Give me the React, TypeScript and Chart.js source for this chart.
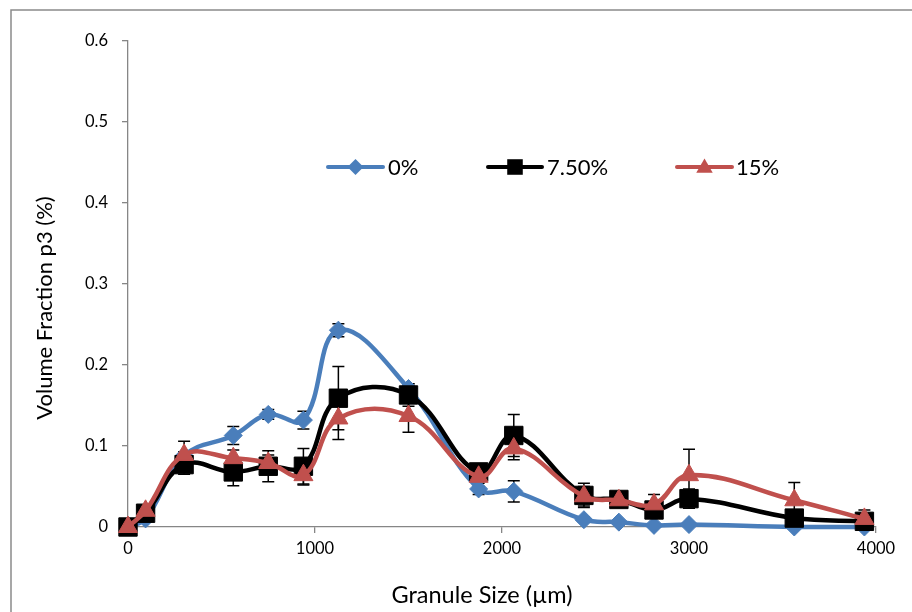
import React, { useEffect, useRef } from "react";
import { Chart, registerables } from "chart.js";

Chart.register(...registerables);

// ---- Data ----
const granuleSizes = [0, 94, 300, 563, 750, 938, 1125, 1500, 1875, 2063, 2438, 2625, 2813, 3000, 3563, 3938];
const frac0 = [0, 0.01, 0.088, 0.113, 0.139, 0.132, 0.243, 0.171, 0.047, 0.044, 0.009, 0.006, 0.002, 0.003, 0.0, 0.0];
const frac750 = [0, 0.017, 0.077, 0.068, 0.075, 0.075, 0.159, 0.163, 0.068, 0.113, 0.039, 0.034, 0.021, 0.035, 0.011, 0.007];
const frac15 = [0, 0.02, 0.089, 0.085, 0.079, 0.064, 0.134, 0.137, 0.062, 0.097, 0.038, 0.033, 0.028, 0.064, 0.033, 0.01];
const err0 = [0, 0, 0.005, 0.011, 0.006, 0.011, 0.008, 0.006, 0.007, 0.013, 0.003, 0.002, 0.001, 0.001, 0, 0];
const err750 = [0, 0.005, 0.012, 0.017, 0.019, 0.022, 0.039, 0.014, 0.01, 0.026, 0.015, 0.008, 0.01, 0.012, 0.006, 0.004];
const err15 = [0, 0.004, 0.017, 0.01, 0.01, 0.012, 0.026, 0.02, 0.012, 0.014, 0.012, 0.006, 0.012, 0.032, 0.022, 0.011];
const seriesLabels = ["0%", "7.50%", "15%"];
const seriesColors = ["#4A7EBB", "#000000", "#C0504D"];
const xTickValues = [0, 1000, 2000, 3000, 4000];
const yTickValues = [0, 0.1, 0.2, 0.3, 0.4, 0.5, 0.6];
const xTitle = "Granule Size (µm)";
const yTitle = "Volume Fraction p3 (%)";

const FONT = "Lato, 'Open Sans', sans-serif";

function drawMarker(ctx: CanvasRenderingContext2D, style: string, x: number, y: number, r: number) {
  ctx.beginPath();
  if (style === "rectRot") {
    ctx.moveTo(x, y - r);
    ctx.lineTo(x + r, y);
    ctx.lineTo(x, y + r);
    ctx.lineTo(x - r, y);
  } else if (style === "rect") {
    const h = r * Math.SQRT1_2;
    ctx.rect(x - h, y - h, 2 * h, 2 * h);
  } else {
    const a = -Math.PI / 2;
    for (let i = 0; i < 3; i++) {
      const ang = a + (i * 2 * Math.PI) / 3;
      const px = x + Math.cos(ang) * r;
      const py = y + Math.sin(ang) * r;
      if (i === 0) ctx.moveTo(px, py);
      else ctx.lineTo(px, py);
    }
  }
  ctx.closePath();
  ctx.fill();
}

const errorBarPlugin = {
  id: "errorBars",
  beforeDatasetsDraw(chart: any) {
    const ctx = chart.ctx;
    const xs = chart.scales.x;
    const ys = chart.scales.y;
    ctx.save();
    ctx.strokeStyle = "#000";
    ctx.lineWidth = 1.5;
    chart.data.datasets.forEach((ds: any) => {
      const errs: number[] = ds.errors;
      ds.data.forEach((p: any, i: number) => {
        const e = errs[i];
        if (!e) return;
        const px = xs.getPixelForValue(p.x);
        const top = ys.getPixelForValue(p.y + e);
        const bot = ys.getPixelForValue(Math.max(0, p.y - e));
        ctx.beginPath();
        ctx.moveTo(px, top);
        ctx.lineTo(px, bot);
        ctx.moveTo(px - 6, top);
        ctx.lineTo(px + 6, top);
        ctx.moveTo(px - 6, bot);
        ctx.lineTo(px + 6, bot);
        ctx.stroke();
      });
    });
    ctx.restore();
  },
};

const decorPlugin = {
  id: "decor",
  afterDraw(chart: any) {
    const ctx = chart.ctx;
    ctx.save();
    // outer frame
    ctx.strokeStyle = "#8a8a8a";
    ctx.lineWidth = 1.5;
    ctx.strokeRect(11, 10, 960, 700);
    // axis titles
    ctx.fillStyle = "#000";
    ctx.textAlign = "center";
    ctx.textBaseline = "middle";
    ctx.font = `23.5px ${FONT}`;
    ctx.fillText(xTitle, 482, 595);
    ctx.font = `22px ${FONT}`;
    ctx.translate(45, 308);
    ctx.rotate(-Math.PI / 2);
    ctx.fillText(yTitle, 0, 0);
    ctx.restore();

    // legend
    ctx.save();
    const items = [
      { x1: 328, x2: 383, tx: 388, style: "rectRot", r: 8 },
      { x1: 488, x2: 542, tx: 547, style: "rect", r: 11 },
      { x1: 677, x2: 732, tx: 736, style: "triangle", r: 9.5 },
    ];
    const ly = 167;
    ctx.font = `22px ${FONT}`;
    ctx.textBaseline = "middle";
    ctx.textAlign = "left";
    items.forEach((it, i) => {
      ctx.strokeStyle = seriesColors[i];
      ctx.fillStyle = seriesColors[i];
      ctx.lineWidth = 4;
      ctx.lineCap = "round";
      ctx.beginPath();
      ctx.moveTo(it.x1, ly);
      ctx.lineTo(it.x2, ly);
      ctx.stroke();
      drawMarker(ctx, it.style, (it.x1 + it.x2) / 2, ly + (it.style === "triangle" ? 1 : 0), it.r);
      ctx.fillStyle = "#000";
      ctx.fillText(seriesLabels[i], it.tx, ly + 1);
    });
    ctx.restore();
  },
};

export default function App() {
  const canvasRef = useRef<HTMLCanvasElement | null>(null);

  useEffect(() => {
    document.body.style.margin = "0";
    const canvas = canvasRef.current;
    if (!canvas) return;
    const toPts = (ys: number[]) => ys.map((y, i) => ({ x: granuleSizes[i], y }));
    const styles = ["rectRot", "rect", "triangle"];
    const radii = [9, 13, 11];
    const values = [frac0, frac750, frac15];
    const errors = [err0, err750, err15];
    const orders = [2, 1, 0];
    const datasets = values.map((v, i) => ({
      label: seriesLabels[i],
      data: toPts(v),
      errors: errors[i],
      borderColor: seriesColors[i],
      backgroundColor: seriesColors[i],
      borderWidth: 4.5,
      pointStyle: styles[i],
      pointRadius: radii[i],
      pointBorderWidth: 1,
      pointBorderColor: seriesColors[i],
      pointBackgroundColor: seriesColors[i],
      tension: 0.4,
      order: orders[i],
      clip: false,
      fill: false,
    }));

    const chart = new Chart(canvas, {
      type: "line",
      data: { datasets } as any,
      options: {
        animation: false,
        responsive: false,
        devicePixelRatio: 1,
        layout: { padding: { top: 41, right: 36, left: 0, bottom: 0 } },
        plugins: { legend: { display: false }, tooltip: { enabled: false } },
        scales: {
          x: {
            type: "linear",
            min: 0,
            max: 4000,
            afterBuildTicks: (s: any) => {
              s.ticks = xTickValues.map((v) => ({ value: v }));
            },
            afterFit: (s: any) => {
              s.height = 85;
            },
            ticks: {
              color: "#000",
              font: { family: FONT, size: 16.5 },
              padding: 6,
              maxRotation: 0,
              callback: (v: any) => String(v),
            },
            grid: { display: true, drawOnChartArea: false, drawTicks: true, tickLength: 6, color: "#868686", lineWidth: 1.3 },
            border: { display: true, color: "#868686", width: 1.3 },
          },
          y: {
            type: "linear",
            min: 0,
            max: 0.6,
            afterBuildTicks: (s: any) => {
              s.ticks = yTickValues.map((v) => ({ value: v }));
            },
            afterFit: (s: any) => {
              s.width = 128;
            },
            ticks: {
              color: "#000",
              font: { family: FONT, size: 16.5 },
              padding: 14,
              callback: (v: any) => (v === 0 ? "0" : Number(v).toFixed(1)),
            },
            grid: { display: true, drawOnChartArea: false, drawTicks: true, tickLength: 6, color: "#868686", lineWidth: 1.3 },
            border: { display: true, color: "#868686", width: 1.3 },
          },
        },
      },
      plugins: [errorBarPlugin, decorPlugin],
    } as any);
    return () => chart.destroy();
  }, []);

  return (
    <div style={{ width: 912, height: 612, background: "#fff" }}>
      <canvas ref={canvasRef} width={912} height={612} style={{ display: "block" }} />
    </div>
  );
}
